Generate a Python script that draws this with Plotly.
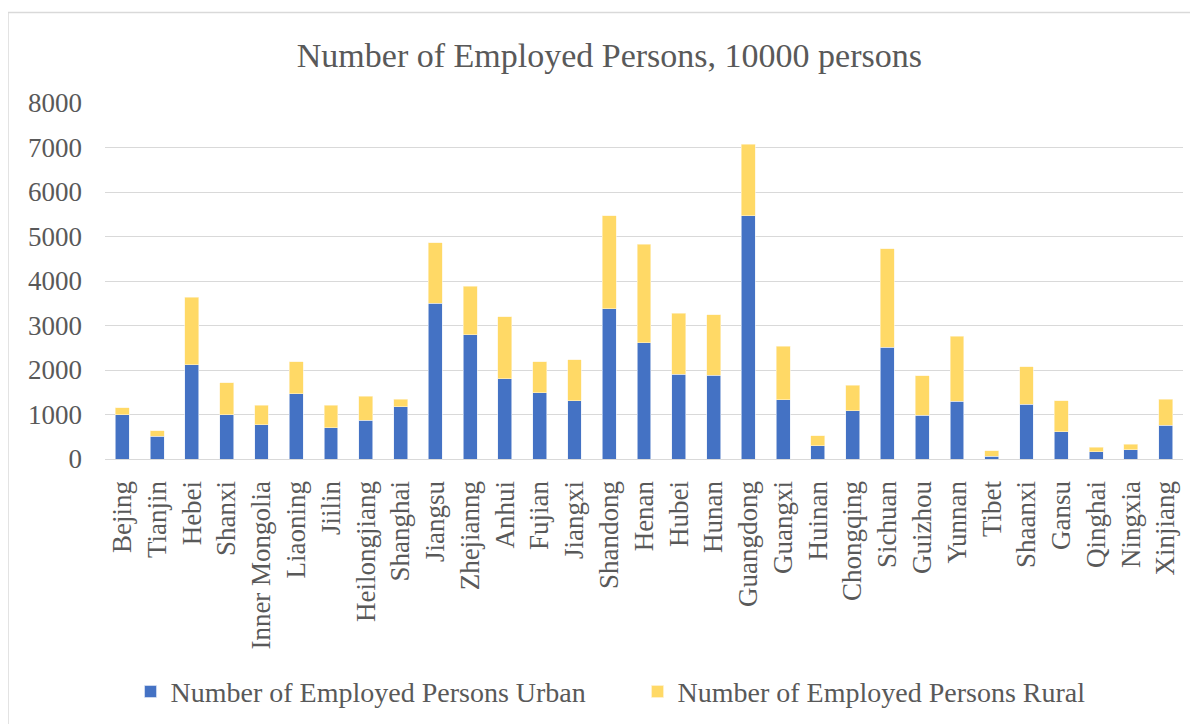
import plotly.graph_objects as go

provinces = ["Bejing", "Tianjin", "Hebei", "Shanxi", "Inner Mongolia", "Liaoning", "Jiilin",
             "Heilongjiang", "Shanghai", "Jiangsu", "Zhejianng", "Anhui", "Fujian", "Jiangxi",
             "Shandong", "Henan", "Hubei", "Hunan", "Guangdong", "Guangxi", "Huinan",
             "Chongqing", "Sichuan", "Guizhou", "Yunnan", "Tibet", "Shaanxi", "Gansu",
             "Qinghai", "Ningxia", "Xinjiang"]

urban = [1000, 510, 2120, 1000, 770, 1470, 705, 870, 1175, 3505, 2795, 1800, 1490, 1305,
         3380, 2610, 1900, 1880, 5465, 1335, 300, 1085, 2510, 980, 1295, 60, 1235, 607,
         158, 210, 755]

total = [1150, 630, 3630, 1708, 1205, 2180, 1210, 1407, 1348, 4860, 3880, 3200, 2187, 2232,
         5468, 4830, 3272, 3243, 7070, 2530, 524, 1654, 4720, 1872, 2764, 180, 2074, 1310,
         261, 328, 1348]

rural = [t - u for t, u in zip(total, urban)]

yticks = [0, 1000, 2000, 3000, 4000, 5000, 6000, 7000, 8000]

FONT = "Liberation Serif, Times New Roman, serif"
GRAY = "#595959"

fig = go.Figure()
fig.add_trace(go.Bar(x=provinces, y=urban, name="Number of Employed Persons Urban",
                     marker=dict(color="#4472C4", line=dict(width=0.6, color="#E8EEF8"))))
fig.add_trace(go.Bar(x=provinces, y=rural, name="Number of Employed Persons Rural",
                     marker=dict(color="#FFD966", line=dict(width=0.6, color="#FFF4D6"))))

fig.update_layout(
    barmode="stack",
    bargap=0.6,
    width=1198, height=724,
    margin=dict(l=97, r=23, t=95, b=273, autoexpand=False),
    paper_bgcolor="white", plot_bgcolor="white",
    font=dict(family=FONT, color=GRAY, size=26),
    title=dict(text="Number of Employed Persons, 10000 persons", x=0.502, xanchor="center",
               y=0.935, yanchor="middle", yref="container",
               font=dict(family=FONT, size=34, color=GRAY)),
    legend=dict(orientation="h", x=0.494, xanchor="center", y=-0.654, yanchor="middle",
                font=dict(family=FONT, size=28, color=GRAY), traceorder="normal",
                bgcolor="rgba(0,0,0,0)",
                itemwidth=30, tracegroupgap=0, entrywidth=462, entrywidthmode="pixels"),
    showlegend=True,
)

fig.update_yaxes(range=[0, 8000], tickvals=yticks, showgrid=True, gridcolor="#D9D9D9",
                 gridwidth=1.2, zeroline=True, zerolinecolor="#D9D9D9", zerolinewidth=1.2,
                 showline=False, ticks="", ticklabelstandoff=22, automargin=False,
                 tickfont=dict(family=FONT, size=27, color=GRAY))
fig.update_xaxes(tickangle=-90, showgrid=False, showline=True, linecolor="#D9D9D9",
                 linewidth=1.2, ticks="", ticklabelstandoff=10, automargin=False,
                 tickfont=dict(family=FONT, size=27, color=GRAY))

# chart border (Excel chart area frame): only left and top edges are in view
fig.add_shape(type="line", xref="paper", yref="paper", x0=-0.09, x1=-0.09, y0=-0.85, y1=1.254,
              line=dict(color="#D9D9D9", width=1.5), layer="below")
fig.add_shape(type="line", xref="paper", yref="paper", x0=-0.09, x1=1.08, y0=1.254, y1=1.254,
              line=dict(color="#D9D9D9", width=1.5), layer="below")

fig.write_html("out.html")
